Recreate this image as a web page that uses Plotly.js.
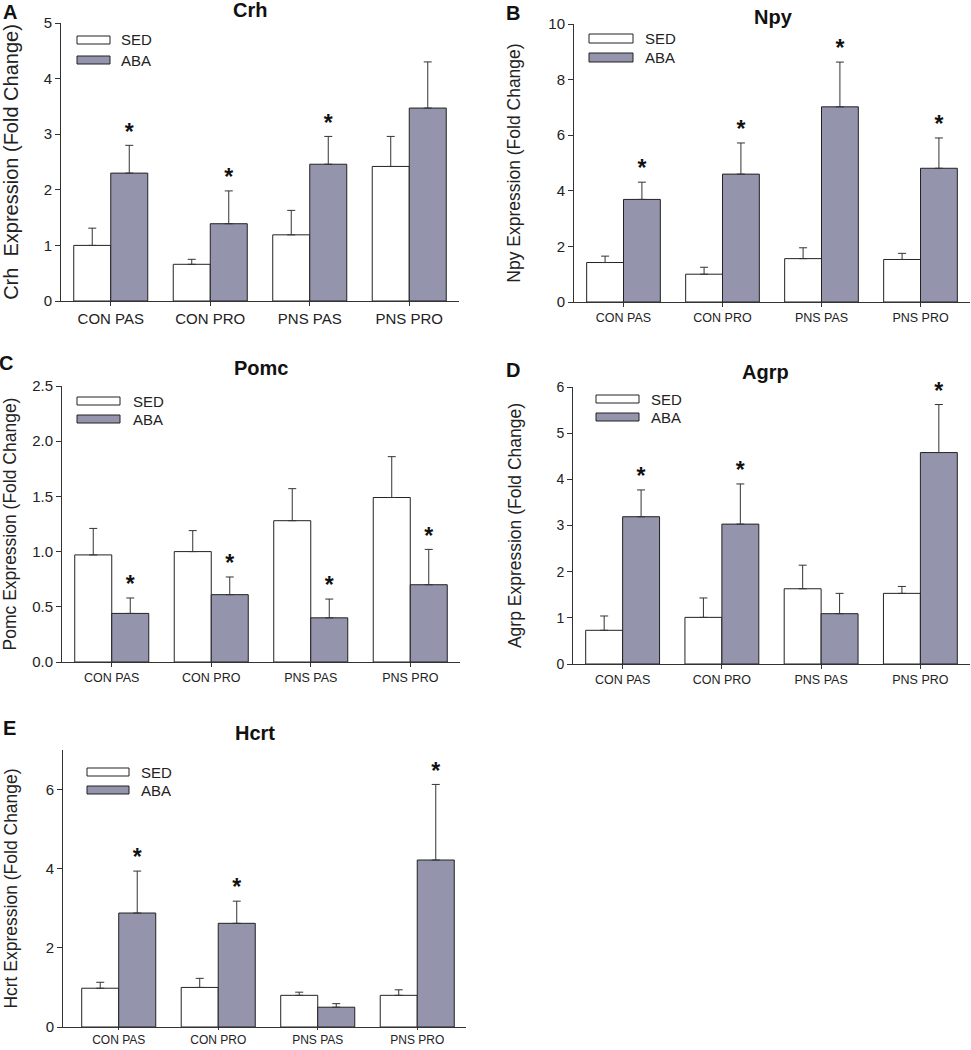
<!DOCTYPE html>
<html>
<head>
<meta charset="utf-8">
<script src="https://cdn.plot.ly/plotly-3.0.1.min.js"></script>
<style>
  html, body { margin: 0; padding: 0; background: #fff; }
  #chart { width: 971px; height: 1050px; }
</style>
</head>
<body>
<div id="chart"></div>
<script>
const categories = ["CON PAS", "CON PRO", "PNS PAS", "PNS PRO"];
const groups = ["SED", "ABA"];

const crhSed = [1.00, 0.66, 1.19, 2.42];
const crhSedErr = [0.31, 0.09, 0.44, 0.54];
const crhAba = [2.30, 1.39, 2.46, 3.47];
const crhAbaErr = [0.50, 0.59, 0.50, 0.83];
const crhSig = [true, true, true, false];

const npySed = [1.42, 1.00, 1.56, 1.53];
const npySedErr = [0.23, 0.25, 0.39, 0.22];
const npyAba = [3.69, 4.60, 7.02, 4.81];
const npyAbaErr = [0.62, 1.12, 1.61, 1.09];
const npySig = [true, true, true, true];

const pomcSed = [0.97, 1.00, 1.28, 1.49];
const pomcSedErr = [0.24, 0.19, 0.29, 0.37];
const pomcAba = [0.44, 0.61, 0.40, 0.70];
const pomcAbaErr = [0.14, 0.16, 0.17, 0.32];
const pomcSig = [true, true, true, true];

const agrpSed = [0.73, 1.01, 1.63, 1.53];
const agrpSedErr = [0.31, 0.42, 0.51, 0.15];
const agrpAba = [3.19, 3.03, 1.09, 4.58];
const agrpAbaErr = [0.58, 0.87, 0.44, 1.04];
const agrpSig = [true, true, false, true];

const hcrtSed = [0.98, 1.00, 0.80, 0.80];
const hcrtSedErr = [0.15, 0.23, 0.08, 0.14];
const hcrtAba = [2.88, 2.62, 0.50, 4.22];
const hcrtAbaErr = [1.06, 0.56, 0.09, 1.91];
const hcrtSig = [true, true, false, true];

const W = 971, H = 1050;
const font = "Liberation Sans, Arial, sans-serif";
const ink = "#222";
const abaFill = "#9494ac";
const barW = 0.372;

const px = (x) => x / W;
const py = (y) => 1 - y / H;

// plot boxes are in pixels: left, top, right, bottom
const panels = [
  { letter: "A", title: "Crh", yTitle: "Crh\u00a0 Expression (Fold Change)",
    sed: crhSed, sedErr: crhSedErr, aba: crhAba, abaErr: crhAbaErr, sig: crhSig,
    yRange: [0, 5], yTicks: [0, 1, 2, 3, 4, 5], tickFmt: "d", xRange: [-0.5, 3.5],
    box: [61, 23, 459, 301], tickSize: 15, xTickSize: 15, xTickLen: 4,
    titleSize: 20, standoff: 28,
    titlePos: [250, 10], letterPos: [10, 12], legend: [77, 110, 36, 56, 8, 119] },
  { letter: "B", title: "Npy", yTitle: "Npy Expression (Fold Change)",
    sed: npySed, sedErr: npySedErr, aba: npyAba, abaErr: npyAbaErr, sig: npySig,
    yRange: [0, 10], yTicks: [0, 2, 4, 6, 8, 10], tickFmt: "d", xRange: [-0.5, 3.5],
    box: [574, 24, 970, 302], tickSize: 15, xTickSize: 12.5, xTickLen: 4,
    titleSize: 17.5, standoff: 23,
    titlePos: [773, 17], letterPos: [513, 13], legend: [589, 633, 34, 53, 9, 643] },
  { letter: "C", title: "Pomc", yTitle: "Pomc Expression (Fold Change)",
    sed: pomcSed, sedErr: pomcSedErr, aba: pomcAba, abaErr: pomcAbaErr, sig: pomcSig,
    yRange: [0, 2.5], yTicks: [0, 0.5, 1, 1.5, 2, 2.5], tickFmt: ".1f", xRange: [-0.5, 3.5],
    box: [62, 386, 460, 662], tickSize: 15, xTickSize: 12.5, xTickLen: 4,
    titleSize: 17.5, standoff: 15,
    titlePos: [261, 368], letterPos: [6, 363], legend: [77, 120, 397, 415, 8, 131] },
  { letter: "D", title: "Agrp", yTitle: "Agrp Expression (Fold Change)",
    sed: agrpSed, sedErr: agrpSedErr, aba: agrpAba, abaErr: agrpAbaErr, sig: agrpSig,
    yRange: [0, 6], yTicks: [0, 1, 2, 3, 4, 5, 6], tickFmt: "d", xRange: [-0.5, 3.5],
    box: [573, 387, 970, 664], tickSize: 14, xTickSize: 12.5, xTickLen: 4,
    titleSize: 17.5, standoff: 30,
    titlePos: [765, 372], letterPos: [513, 370], legend: [596, 639, 395, 413, 8, 649] },
  { letter: "E", title: "Hcrt", yTitle: "Hcrt Expression (Fold Change)",
    sed: hcrtSed, sedErr: hcrtSedErr, aba: hcrtAba, abaErr: hcrtAbaErr, sig: hcrtSig,
    yRange: [0, 7], yTicks: [0, 2, 4, 6], tickFmt: "d", xRange: [-0.56, 3.49],
    box: [63, 750, 466, 1027], tickSize: 15, xTickSize: 12, xTickLen: 2,
    titleSize: 17.5, standoff: 23,
    titlePos: [255, 733], letterPos: [9, 728], legend: [87, 129, 768, 786, 8, 139] }
];

const xIdx = categories.map((_, i) => i);
const data = [];
const layout = {
  width: W, height: H,
  margin: { l: 0, r: 0, t: 0, b: 0 },
  paper_bgcolor: "#fff", plot_bgcolor: "#fff",
  font: { family: font, color: ink },
  showlegend: false,
  barmode: "overlay",
  shapes: [], annotations: []
};

panels.forEach((p, k) => {
  const n = k === 0 ? "" : String(k + 1);
  const xa = "x" + n, ya = "y" + n;
  const [l, t, r, b] = p.box;

  const errStyle = { type: "data", symmetric: false, arrayminus: [0, 0, 0, 0], color: "#333", thickness: 1, width: 4 };
  data.push({
    type: "bar", name: groups[0], x: xIdx, y: p.sed, xaxis: xa, yaxis: ya,
    width: barW, offset: -barW,
    marker: { color: "#fff", line: { color: ink, width: 1 } },
    error_y: { ...errStyle, array: p.sedErr }
  });
  data.push({
    type: "bar", name: groups[1], x: xIdx, y: p.aba, xaxis: xa, yaxis: ya,
    width: barW, offset: 0,
    marker: { color: abaFill, line: { color: ink, width: 1 } },
    error_y: { ...errStyle, array: p.abaErr }
  });
  // significance stars sit on top of the ABA error bars
  data.push({
    type: "scatter", mode: "text", xaxis: xa, yaxis: ya, cliponaxis: false,
    x: xIdx.map((i) => i + barW / 2),
    y: p.aba.map((v, i) => v + p.abaErr[i]),
    text: p.sig.map((s) => (s ? "<b>*</b>" : "")),
    textposition: "top center",
    textfont: { family: font, size: 23, color: "#111" },
    hoverinfo: "skip"
  });

  layout["xaxis" + n] = {
    domain: [px(l), px(r)], anchor: ya, range: p.xRange,
    tickvals: xIdx, ticktext: categories,
    showline: true, linecolor: "#333", linewidth: 1,
    ticks: "outside", ticklen: p.xTickLen, tickcolor: "#333",
    showgrid: false, zeroline: false,
    tickfont: { family: font, size: p.xTickSize, color: ink }
  };
  layout["yaxis" + n] = {
    domain: [py(b), py(t)], anchor: xa, range: p.yRange,
    tickvals: p.yTicks, tickformat: p.tickFmt,
    showline: true, linecolor: "#333", linewidth: 1,
    ticks: "outside", ticklen: 5, tickcolor: "#333",
    showgrid: false, zeroline: false,
    tickfont: { family: font, size: p.tickSize, color: ink },
    title: { text: p.yTitle, standoff: p.standoff, font: { family: font, size: p.titleSize, color: ink } }
  };

  layout.annotations.push({
    text: "<b>" + p.title + "</b>", xref: "paper", yref: "paper",
    x: px(p.titlePos[0]), y: py(p.titlePos[1]), showarrow: false,
    xanchor: "center", yanchor: "middle", font: { family: font, size: 20, color: "#111" }
  });
  layout.annotations.push({
    text: "<b>" + p.letter + "</b>", xref: "paper", yref: "paper",
    x: px(p.letterPos[0]), y: py(p.letterPos[1]), showarrow: false,
    xanchor: "center", yanchor: "middle", font: { family: font, size: 20, color: "#111" }
  });

  const [sl, sr, sedTop, abaTop, sh, tx] = p.legend;
  [[sedTop, "#fff", groups[0]], [abaTop, abaFill, groups[1]]].forEach(([top, fill, label]) => {
    layout.shapes.push({
      type: "rect", xref: "paper", yref: "paper",
      x0: px(sl), x1: px(sr), y0: py(top + sh), y1: py(top),
      fillcolor: fill, line: { color: ink, width: 1 }
    });
    layout.annotations.push({
      text: label, xref: "paper", yref: "paper",
      x: px(tx), y: py(top + sh / 2), showarrow: false,
      xanchor: "left", yanchor: "middle", font: { family: font, size: 15, color: ink }
    });
  });
});

Plotly.newPlot("chart", data, layout, { displayModeBar: false, staticPlot: true });
</script>
</body>
</html>
